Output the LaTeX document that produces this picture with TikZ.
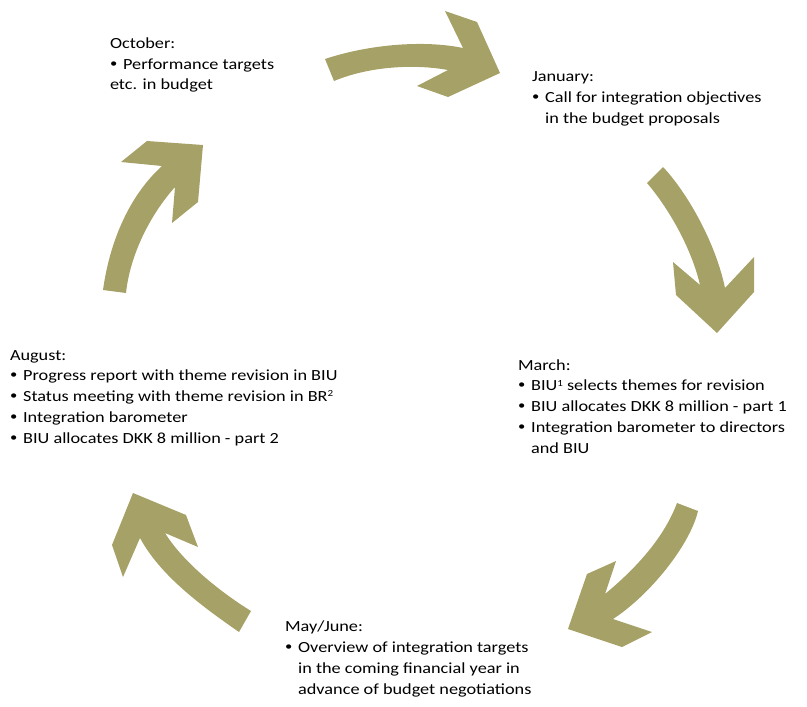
\documentclass[tikz,border=0pt]{standalone}
\usepackage{fontspec}
\setmainfont[FakeStretch=1.18]{Carlito}
\definecolor{olive}{RGB}{166,161,102}
\newcommand{\bul}{\raisebox{0.12em}{\scalebox{0.8}{•}}\hspace{0.38em}}
\newcommand{\myindent}{\phantom{\bul}}
\newcommand{\supnum}[1]{\raisebox{0.3em}{\fontsize{7}{7}\selectfont #1}}
\tikzset{
  cyclearrow/.style={fill=olive, draw=none},
  monthtext/.style={anchor=base west, inner sep=0pt, outer sep=0pt,
    font=\fontsize{11.6}{15.6}\selectfont, text=black}
}
\begin{document}
\begin{tikzpicture}[x=0.75pt,y=-0.75pt]
\useasboundingbox (0,0) rectangle (807,707);

% Oct -> Jan (top)
\fill[cyclearrow] (325,59) .. controls (370,44) and (425,40) .. (463,48)
  -- (445,11) -- (477,22) -- (500,73) -- (448,97) -- (417,86) -- (448,70)
  .. controls (415,64) and (370,66) .. (334,81) -- cycle;

% Jan -> Mar (right)
\fill[cyclearrow] (663,167) .. controls (685,190) and (715,240) .. (725,288)
  -- (754,257) -- (754,292) -- (717,333) -- (676,295) -- (673,262) -- (700,285)
  .. controls (692,250) and (670,210) .. (647,183) -- cycle;

% Mar -> May (lower right)
\fill[cyclearrow] (698,511) .. controls (690,545) and (650,595) .. (613,619)
  -- (652,632) -- (622,647) -- (568,629) -- (587,574) -- (616,561) -- (605,594)
  .. controls (640,565) and (665,535) .. (677,503) -- cycle;

% May -> Aug (lower left)
\fill[cyclearrow] (251,611) .. controls (225,595) and (185,565) .. (165,533)
  -- (198,547) -- (186,515) -- (133,493) -- (112,545) -- (123,577) -- (140,538)
  .. controls (160,575) and (200,605) .. (239,632) -- cycle;

% Aug -> Oct (upper left)
\fill[cyclearrow] (103,290) .. controls (110,240) and (130,195) .. (162,166)
  -- (121,162) -- (147,141) -- (203,145) -- (198,202) -- (172,223) -- (175,187)
  .. controls (150,215) and (130,255) .. (126,293) -- cycle;

\node[monthtext] (oct) at (110,48.3) {\begin{tabular}[t]{@{}l@{}}
October:\\
\bul Performance targets\\
etc. in budget
\end{tabular}};

\node[monthtext] (jan) at (532,81.7) {\begin{tabular}[t]{@{}l@{}}
January:\\
\bul Call for integration objectives\\
\myindent in the budget proposals
\end{tabular}};

\node[monthtext] (mar) at (518,370) {\begin{tabular}[t]{@{}l@{}}
March:\\
\bul BIU\supnum{1} selects themes for revision\\
\bul BIU allocates DKK 8 million - part 1\\
\bul Integration barometer to directors\\
\myindent and BIU
\end{tabular}};

\node[monthtext] (may) at (285,631.7) {\begin{tabular}[t]{@{}l@{}}
May/June:\\
\bul Overview of integration targets\\
\myindent in the coming financial year in\\
\myindent advance of budget negotiations
\end{tabular}};

\node[monthtext] (aug) at (10,360) {\begin{tabular}[t]{@{}l@{}}
August:\\
\bul Progress report with theme revision in BIU\\
\bul Status meeting with theme revision in BR\supnum{2}\\
\bul Integration barometer\\
\bul BIU allocates DKK 8 million - part 2
\end{tabular}};
\end{tikzpicture}
\end{document}
